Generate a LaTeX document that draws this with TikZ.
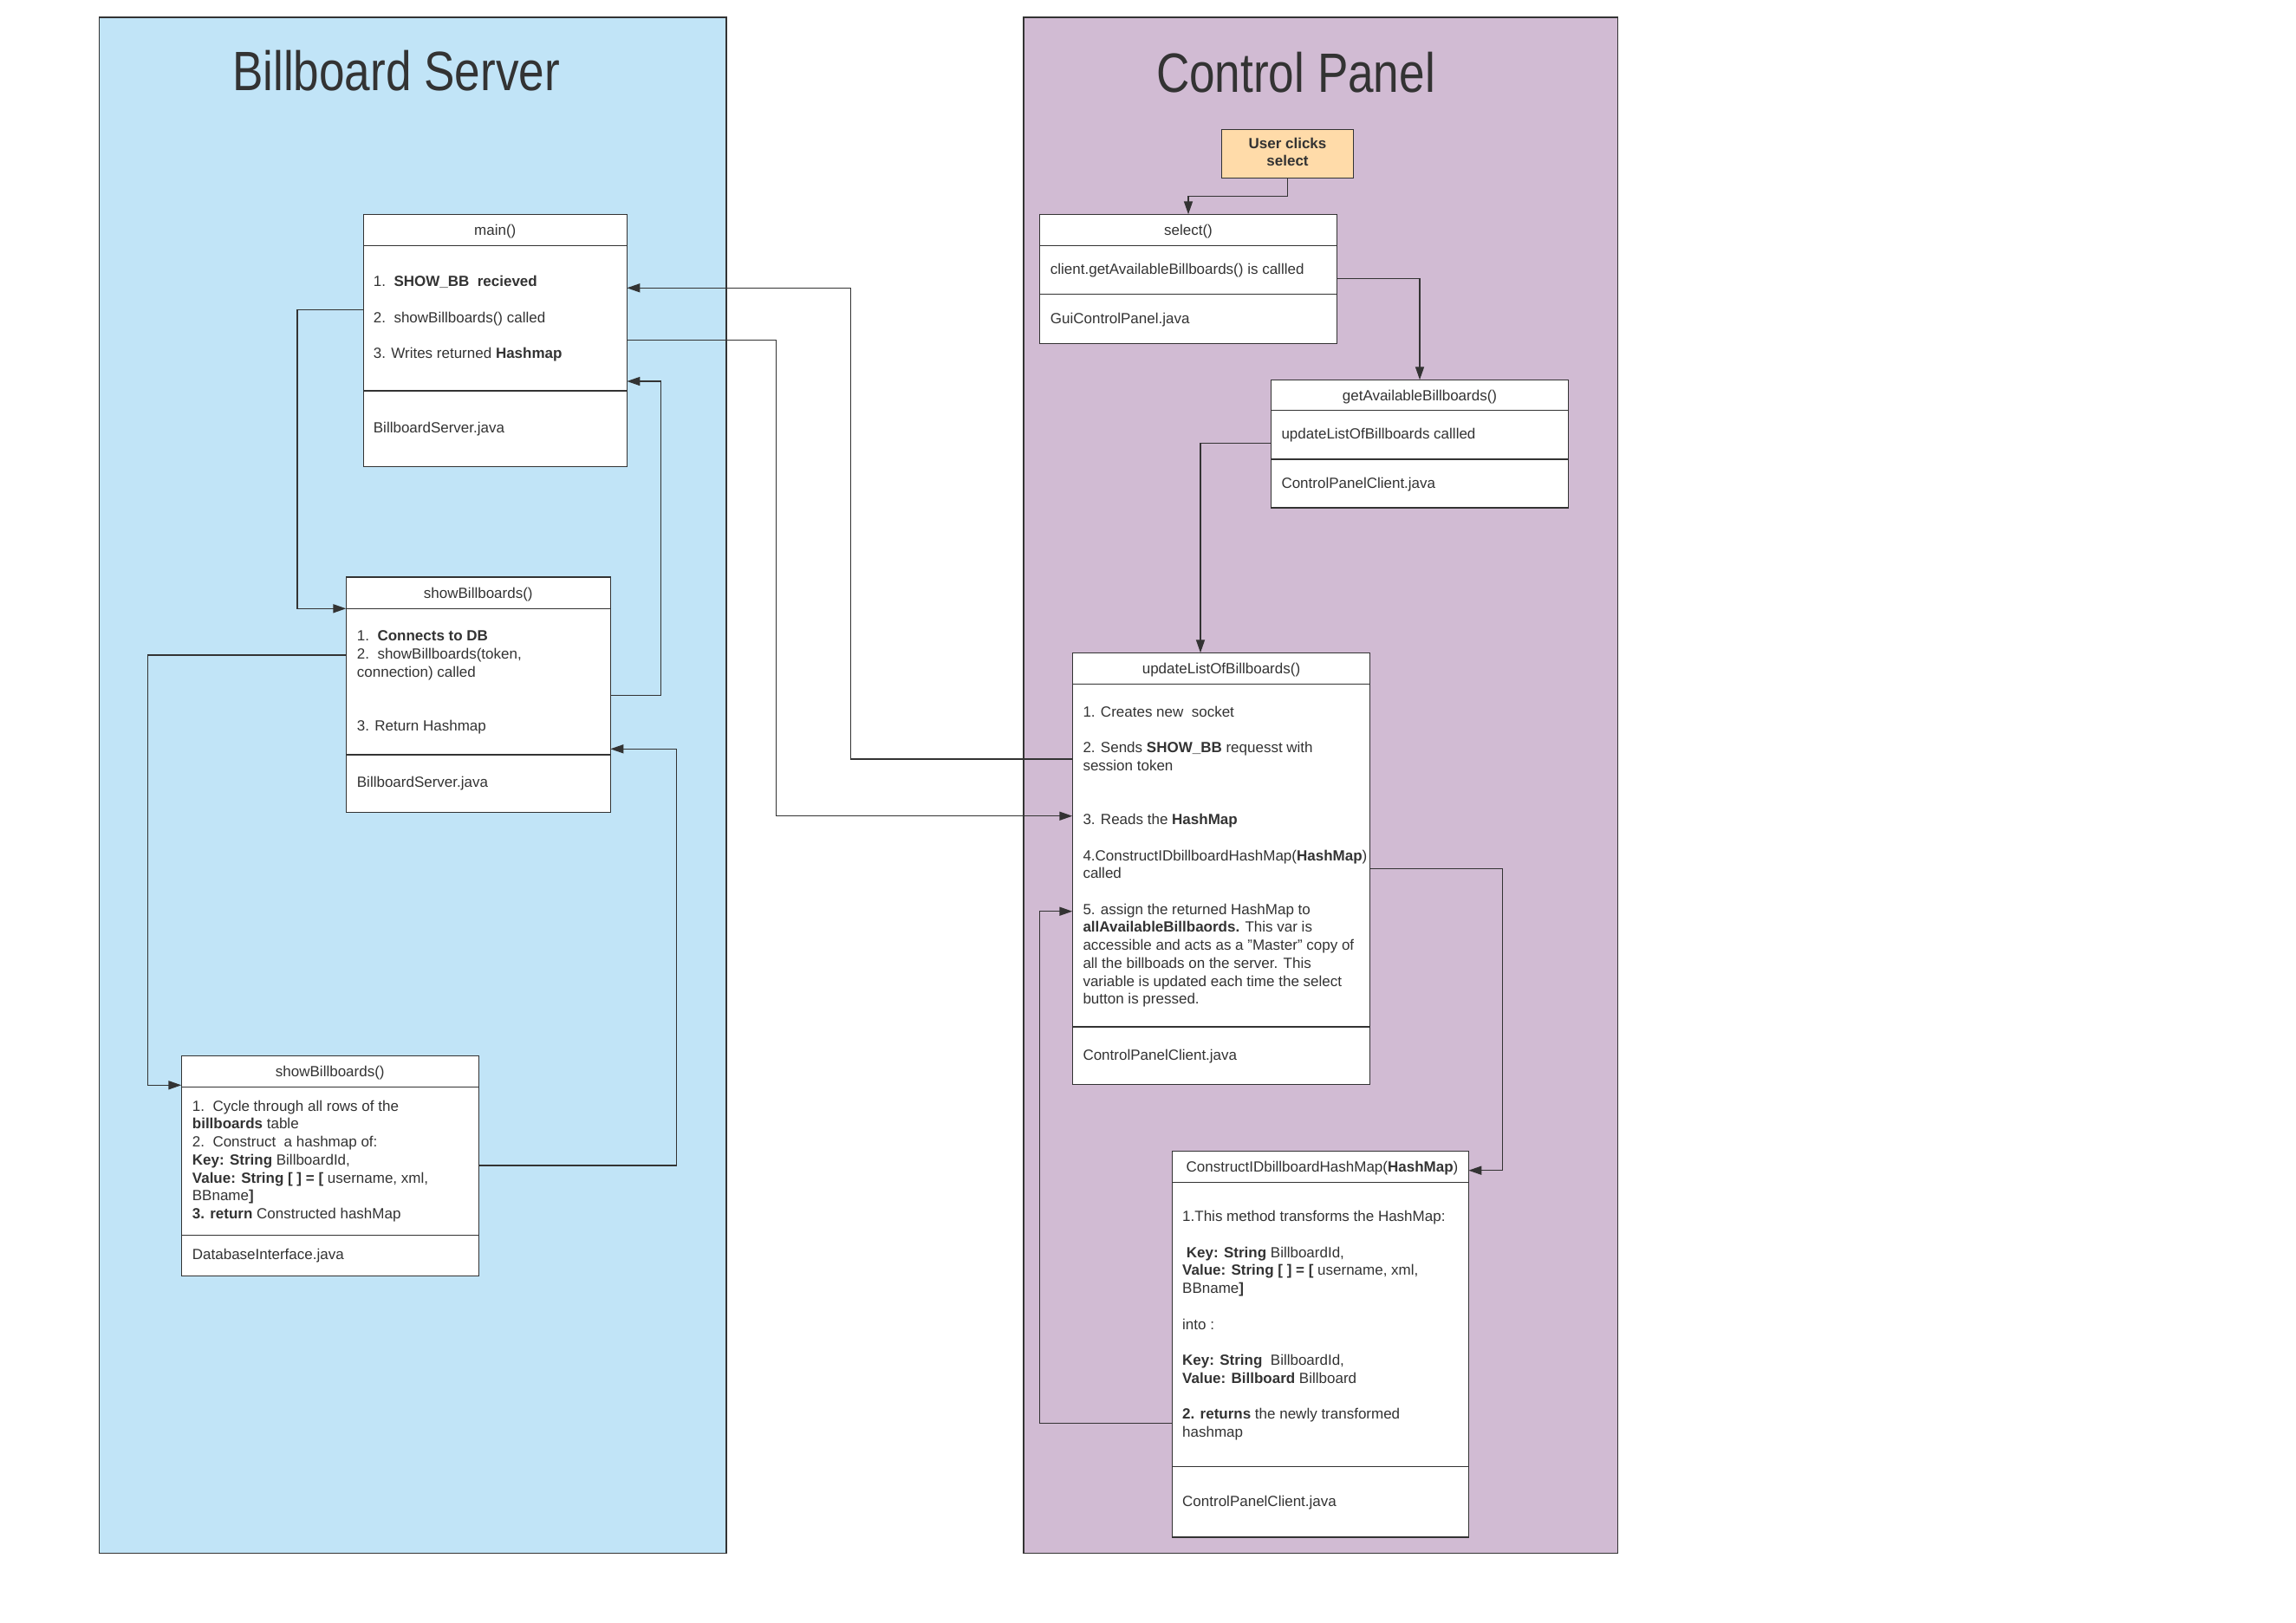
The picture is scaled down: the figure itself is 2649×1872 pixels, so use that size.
\documentclass[tikz,border=0pt]{standalone}
\usepackage{fontspec}
\setmainfont{Liberation Sans}
\newfontfamily\titlefont[FakeStretch=0.83]{Liberation Sans}
\usetikzlibrary{arrows.meta}
\definecolor{ink}{HTML}{333333}
\definecolor{bsblue}{HTML}{C1E4F7}
\definecolor{cppurple}{HTML}{D1BBD3}
\definecolor{uorange}{HTML}{FFDBA9}
\newcommand\blk[1]{\begin{tabular}[t]{@{}l@{}}#1\end{tabular}}
\newcommand\cblk[1]{\begin{tabular}[t]{@{}c@{}}#1\end{tabular}}
\begin{document}
\begin{tikzpicture}[x=1pt,y=-1pt,
  panel/.style={draw=ink, line width=1.5pt, outer sep=0pt, anchor=north west, inner sep=0pt},
  box/.style={draw=ink, fill=white, line width=1.5pt, outer sep=0pt, anchor=north west, inner sep=0pt},
  divider/.style={draw=ink, line width=1.5pt},
  txt/.style={anchor=base west, inner sep=0pt, text=ink, font=\fontsize{17}{20.7}\selectfont},
  hdr/.style={anchor=base, inner sep=0pt, text=ink, font=\fontsize{17}{20.7}\selectfont},
  ttl/.style={anchor=base, inner sep=0pt, text=ink, font=\titlefont\fontsize{64}{72}\selectfont},
  conn/.style={draw=ink, line width=1.5pt, -{Triangle[length=15pt,width=10pt]}},
]
% background / bounding box
\fill[white] (0,0) rectangle (2649,1872);
\path[use as bounding box] (0,0) rectangle (2649,1872);

% panels
\node[panel, fill=bsblue, minimum width=723.3pt, minimum height=1772.5pt] (bs) at (114.5,20) {};
\node[panel, fill=cppurple, minimum width=685.5pt, minimum height=1772.5pt] (cp) at (1180.9,20) {};
\node[ttl] (bstitle) at (457,104) {Billboard Server};
\node[ttl] (cptitle) at (1495,106) {Control Panel};

% ---------- Billboard Server boxes ----------
% main()
\node[box, minimum width=304pt, minimum height=291pt] (main) at (419.3,247.3) {};
\draw[divider] ([yshift=-36pt]main.north west) -- ([yshift=-36pt]main.north east);
\draw[divider] ([yshift=-203.7pt]main.north west) -- ([yshift=-203.7pt]main.north east);
\node[hdr] (mainh) at (571.3,271.5) {main()};
\node[txt] (mainb) at (430.7,330.8) {\blk{1.\ \ \textbf{SHOW\_BB\ \ recieved}\\ \\2.\ \ showBillboards() called\\ \\3. Writes returned \textbf{Hashmap}}};
\node[txt] (mainf) at (430.7,499.8) {BillboardServer.java};

% showBillboards() (server)
\node[box, minimum width=305pt, minimum height=271.3pt] (sb1) at (399.3,666) {};
\draw[divider] ([yshift=-36.3pt]sb1.north west) -- ([yshift=-36.3pt]sb1.north east);
\draw[divider] ([yshift=-205pt]sb1.north west) -- ([yshift=-205pt]sb1.north east);
\node[hdr] (sb1h) at (551.8,690.4) {showBillboards()};
\node[txt] (sb1b) at (411.7,739.8) {\blk{1.\ \ \textbf{Connects to DB}\\2.\ \ showBillboards(token,\\connection) called\\ \\ \\3. Return Hashmap}};
\node[txt] (sb1f) at (411.7,908.8) {BillboardServer.java};

% showBillboards() (database)
\node[box, minimum width=343pt, minimum height=254pt] (db) at (209.3,1218.3) {};
\draw[divider] ([yshift=-36pt]db.north west) -- ([yshift=-36pt]db.north east);
\draw[divider] ([yshift=-207.4pt]db.north west) -- ([yshift=-207.4pt]db.north east);
\node[hdr] (dbh) at (380.8,1242.5) {showBillboards()};
\node[txt] (dbb) at (221.7,1282.2) {\blk{1.\ \ Cycle through all rows of the\\\textbf{billboards} table\\2.\ \ Construct\ \ a hashmap of:\\\textbf{Key: String} BillboardId,\\\textbf{Value: String [ ] = [} username, xml,\\BBname\textbf{]}\\\textbf{3. return} Constructed hashMap}};
\node[txt] (dbf) at (221.7,1453.2) {DatabaseInterface.java};

% ---------- Control Panel boxes ----------
% User clicks select
\node[box, fill=uorange, minimum width=152.4pt, minimum height=56pt] (uc) at (1409.3,149.3) {};
\node[hdr, font=\fontsize{17}{20}\selectfont\bfseries] (uct) at (1485.5,171.5) {\cblk{User clicks\\select}};

% select()
\node[box, minimum width=343.4pt, minimum height=149pt] (sel) at (1199.3,247.3) {};
\draw[divider] ([yshift=-36.4pt]sel.north west) -- ([yshift=-36.4pt]sel.north east);
\draw[divider] ([yshift=-92pt]sel.north west) -- ([yshift=-92pt]sel.north east);
\node[hdr] (selh) at (1371,271.7) {select()};
\node[txt] (selb) at (1211.7,316.5) {client.getAvailableBillboards() is callled};
\node[txt] (self) at (1211.7,373.2) {GuiControlPanel.java};

% getAvailableBillboards()
\node[box, minimum width=342.6pt, minimum height=147.7pt] (ga) at (1466.7,438.3) {};
\draw[divider] ([yshift=-35pt]ga.north west) -- ([yshift=-35pt]ga.north east);
\draw[divider] ([yshift=-91.7pt]ga.north west) -- ([yshift=-91.7pt]ga.north east);
\node[hdr] (gah) at (1638,462) {getAvailableBillboards()};
\node[txt] (gab) at (1478.3,506.5) {updateListOfBillboards callled};
\node[txt] (gaf) at (1478.3,563.2) {ControlPanelClient.java};

% updateListOfBillboards()
\node[box, minimum width=343.4pt, minimum height=498.4pt] (upd) at (1237.3,753.3) {};
\draw[divider] ([yshift=-36pt]upd.north west) -- ([yshift=-36pt]upd.north east);
\draw[divider] ([yshift=-431.7pt]upd.north west) -- ([yshift=-431.7pt]upd.north east);
\node[hdr] (updh) at (1409,777.5) {updateListOfBillboards()};
\node[txt] (updb) at (1249.3,827.5) {\blk{1. Creates new\ \ socket\\ \\2. Sends \textbf{SHOW\_BB} requesst with\\session token\\ \\ \\3. Reads the \textbf{HashMap}\\ \\4.ConstructIDbillboardHashMap(\textbf{HashMap})\\called\\ \\5. assign the returned HashMap to\\\textbf{allAvailableBillbaords.} This var is\\accessible and acts as a "Master" copy of\\all the billboads on the server. This\\variable is updated each time the select\\button is pressed.}};
\node[txt] (updf) at (1249.3,1223.2) {ControlPanelClient.java};

% ConstructIDbillboardHashMap()
\node[box, minimum width=342pt, minimum height=445.7pt] (con) at (1352.3,1328.3) {};
\draw[divider] ([yshift=-36pt]con.north west) -- ([yshift=-36pt]con.north east);
\draw[divider] ([yshift=-364pt]con.north west) -- ([yshift=-364pt]con.north east);
\node[hdr] (conh) at (1525.5,1352.5) {ConstructIDbillboardHashMap(\textbf{HashMap})};
\node[txt] (conb) at (1364,1409.8) {\blk{1.This method transforms the HashMap:\\ \\\ \textbf{Key: String} BillboardId,\\\textbf{Value: String [ ] = [} username, xml,\\BBname\textbf{]}\\ \\into :\\ \\\textbf{Key: String}\ \ BillboardId,\\\textbf{Value: Billboard} Billboard\\ \\\textbf{2. returns} the newly transformed\\hashmap}};
\node[txt] (conf) at (1364,1738.2) {ControlPanelClient.java};

% ---------- connectors ----------
\draw[conn] (uc.south) -- ++(0,21) -| (sel.north);
\draw[conn] ([yshift=-74pt]sel.north east) -| (ga.north);
\draw[conn] ([yshift=-73.4pt]ga.north west) -| ([xshift=-24pt]upd.north);
\draw[conn] ([yshift=-122.7pt]upd.north west) -- ++(-255.8,0) |- ([yshift=-85pt]main.north east);
\draw[conn] ([yshift=-145pt]main.north east) -- ++(172.1,0) |- ([yshift=-188.4pt]upd.north west);
\draw[conn] ([yshift=-110.4pt]main.north west) -- ++(-76.3,0) |- ([yshift=-36.3pt]sb1.north west);
\draw[conn] ([yshift=-90pt]sb1.north west) -- ++(-228.7,0) |- ([yshift=-34pt]db.north west);
\draw[conn] ([yshift=-126.7pt]db.north east) -- ++(228.2,0) |- ([yshift=-198.3pt]sb1.north east);
\draw[conn] ([yshift=-136.3pt]sb1.north east) -- ++(58,0) |- ([yshift=-192.7pt]main.north east);
\draw[conn] ([yshift=-249pt]upd.north east) -- ++(152.6,0) |- ([yshift=-22.4pt]con.north east);
\draw[conn] ([yshift=-314pt]con.north west) -- ++(-152.8,0) |- ([yshift=-298.4pt]upd.north west);
\end{tikzpicture}
\end{document}
